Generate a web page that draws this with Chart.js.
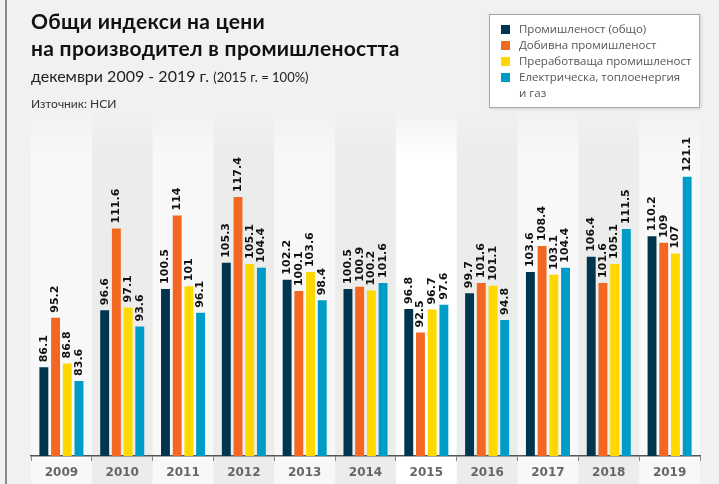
<!DOCTYPE html>
<html>
<head>
<meta charset="utf-8">
<script src="https://cdn.jsdelivr.net/npm/chart.js@4"></script>
<style>
  html, body { margin:0; padding:0; }
  body { width:719px; height:484px; position:relative; overflow:hidden; background:#f1f1f1; font-family:"Open Sans", sans-serif; }
  #frame { position:absolute; left:5px; top:0; width:2px; height:484px; background:#8a8a8a; }
  #c { position:absolute; left:0; top:0; }
  .t { position:absolute; left:31px; color:#111; white-space:nowrap; }
  #t1 { top:8px; font:bold 21px "Lato", sans-serif; letter-spacing:0.3px; }
  #t2 { top:35px; font:bold 21px "Lato", sans-serif; letter-spacing:0.3px; }
  #t3 { top:66px; font:16px "Lato", sans-serif; color:#222; }
  #t3 span { font-size:13px; }
  #t4 { top:96px; font:12px "Lato", sans-serif; color:#333; }
  #legend { position:absolute; left:489px; top:14px; width:211px; height:94px; background:#fff; border:1px solid #a8a8a8; box-shadow:1px 1px 3px rgba(0,0,0,0.15); box-sizing:border-box; padding-top:6px; }
  .li { position:relative; padding-left:29px; font:11.5px "Open Sans", sans-serif; color:#555; line-height:16px; }
  .li i { position:absolute; left:11px; top:4px; width:9px; height:9px; }
</style>
</head>
<body>
<canvas id="c" width="719" height="484"></canvas>
<div id="frame"></div>
<div class="t" id="t1">Общи индекси на цени</div>
<div class="t" id="t2">на производител в промишлеността</div>
<div class="t" id="t3">декември 2009 - 2019 г. <span>(2015 г. = 100%)</span></div>
<div class="t" id="t4">Източник: НСИ</div>
<div id="legend"></div>
<script>
const years = ["2009","2010","2011","2012","2013","2014","2015","2016","2017","2018","2019"];
const seriesNames = ["Промишленост (общо)", "Добивна промишленост", "Преработваща промишленост", "Електрическа, топлоенергия и газ"];
const industryTotal = [86.1, 96.6, 100.5, 105.3, 102.2, 100.5, 96.8, 99.7, 103.6, 106.4, 110.2];
const mining        = [95.2, 111.6, 114, 117.4, 100.1, 100.9, 92.5, 101.6, 108.4, 101.6, 109];
const manufacturing = [86.8, 97.1, 101, 105.1, 103.6, 100.2, 96.7, 101.1, 103.1, 105.1, 107];
const energy        = [83.6, 93.6, 96.1, 104.4, 98.4, 101.6, 97.6, 94.8, 104.4, 111.5, 121.1];
const colors = ["#003550", "#F26722", "#FFD800", "#009CC8"];

// legend
const lg = document.getElementById('legend');
const legendText = ["Промишленост (общо)", "Добивна промишленост", "Преработваща промишленост", "Електрическа, топлоенергия<br>и газ"];
legendText.forEach((t, i) => {
  const d = document.createElement('div');
  d.className = 'li';
  d.innerHTML = '<i style="background:' + colors[i] + '"></i>' + t;
  lg.appendChild(d);
});

const bandPlugin = {
  id: 'bands',
  beforeDraw(chart) {
    const ctx = chart.ctx, x = chart.scales.x;
    ctx.save();
    const n = years.length;
    for (let i = 0; i < n; i++) {
      const left = x.getPixelForValue(i) - (x.width / n) / 2;
      const w = x.width / n;
      let col = (i % 2 === 1) ? '#ececeb' : '#f8f8f8';
      if (years[i] === '2015') col = '#ffffff';
      const g = ctx.createLinearGradient(0, 110, 0, 484);
      g.addColorStop(0, 'rgba(241,241,241,1)');
      g.addColorStop(0.12, col);
      g.addColorStop(1, col);
      ctx.fillStyle = g;
      ctx.fillRect(left, 110, w, 484 - 110);
    }
    ctx.restore();
  }
};

const labelPlugin = {
  id: 'vlabels',
  afterDatasetsDraw(chart) {
    const ctx = chart.ctx;
    ctx.save();
    ctx.font = 'bold 11px "DejaVu Sans", sans-serif';
    ctx.fillStyle = '#111';
    ctx.textAlign = 'left';
    ctx.textBaseline = 'middle';
    chart.data.datasets.forEach((ds, di) => {
      chart.getDatasetMeta(di).data.forEach((bar, i) => {
        ctx.save();
        ctx.translate(bar.x, bar.y - 5);
        ctx.rotate(-Math.PI / 2);
        ctx.fillText(String(ds.data[i]), 0, 0);
        ctx.restore();
      });
    });
    ctx.restore();
  }
};

const data = {
  labels: years,
  datasets: [industryTotal, mining, manufacturing, energy].map((d, i) => ({
    label: seriesNames[i],
    data: d,
    backgroundColor: colors[i],
    borderWidth: 0,
    categoryPercentage: 0.77,
    barPercentage: 0.76
  }))
};

new Chart(document.getElementById('c'), {
  type: 'bar',
  data: data,
  options: {
    responsive: false,
    animation: false,
    devicePixelRatio: 1,
    layout: { padding: { left: 31, right: 19, top: 130, bottom: 0 } },
    plugins: { legend: { display: false }, tooltip: { enabled: false } },
    scales: {
      y: { display: false, min: 69.8, max: 129.7 },
      x: {
        afterFit: (scale) => { scale.height = 28; },
        grid: { display: true, offset: true, drawOnChartArea: false, tickLength: 5, color: '#888', tickWidth: 1 },
        border: { display: true, color: '#555', width: 1.5 },
        ticks: { color: '#666', font: { family: '"DejaVu Sans", sans-serif', weight: 'bold', size: 12 }, padding: 5 }
      }
    }
  },
  plugins: [bandPlugin, labelPlugin]
});
</script>
</body>
</html>
